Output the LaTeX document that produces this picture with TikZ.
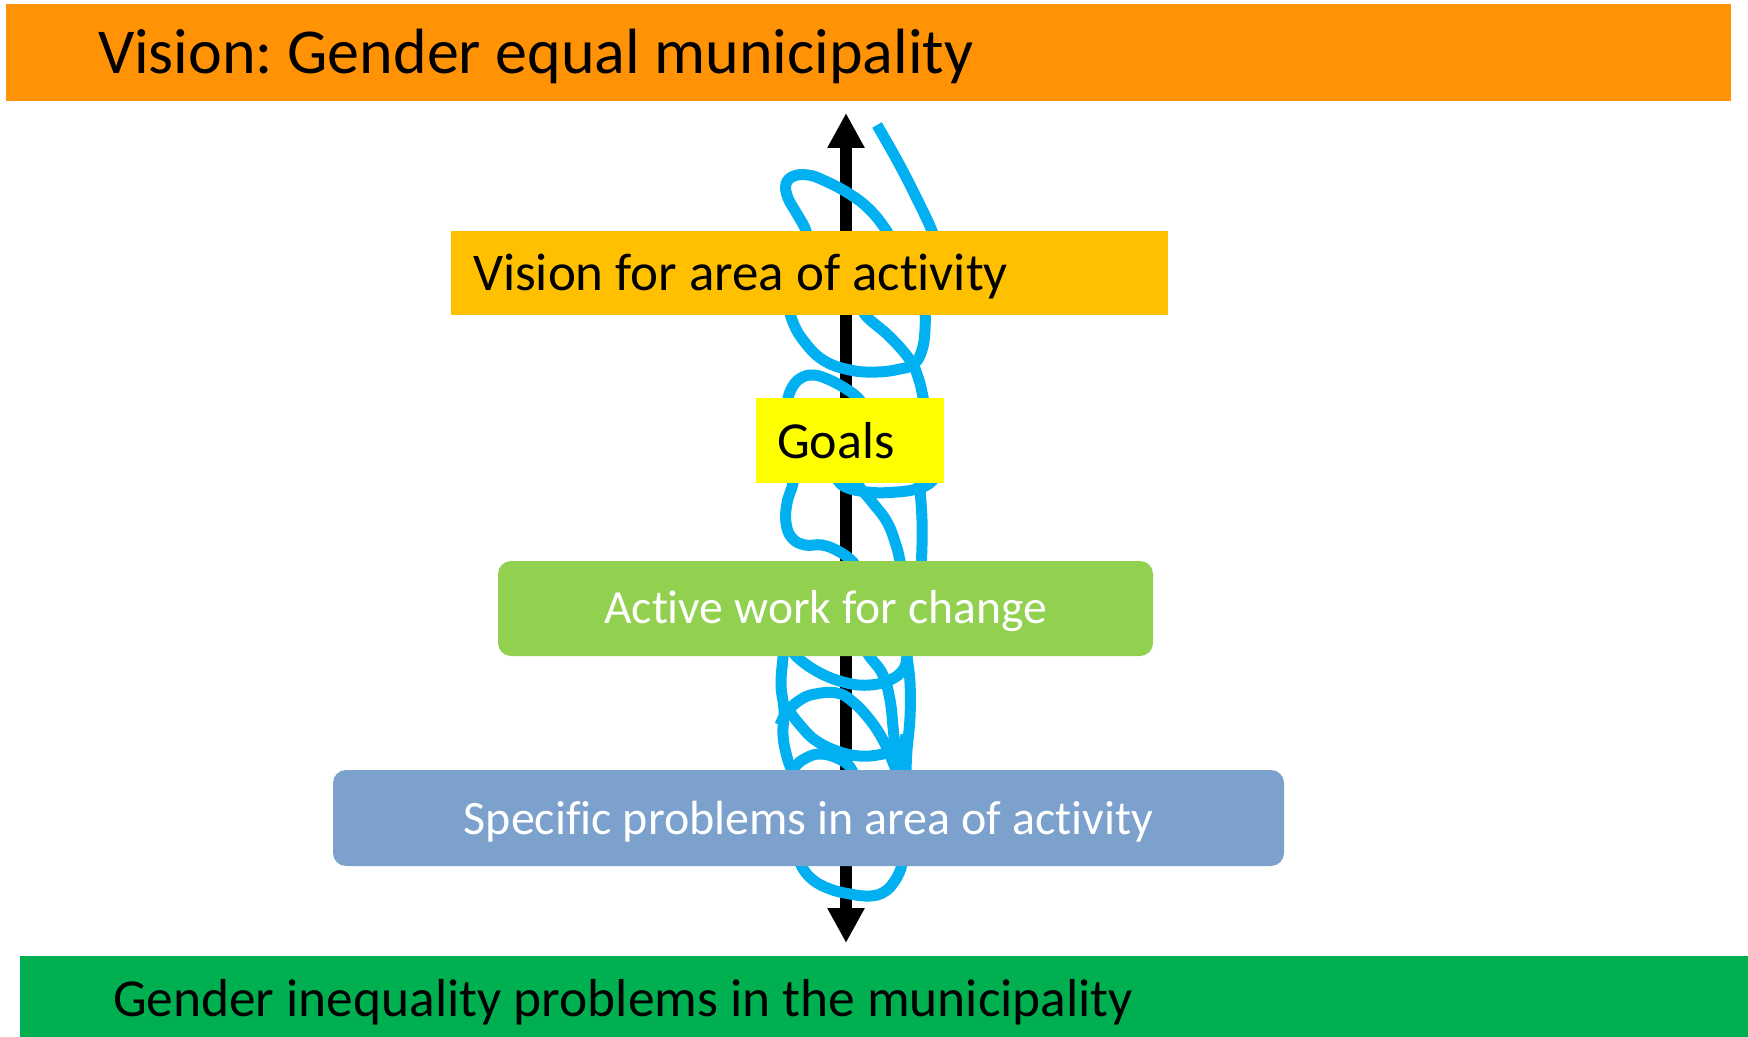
\documentclass[tikz,border=0pt]{standalone}
\usepackage{fontspec}
\setmainfont[Ligatures=NoCommon]{Carlito}
\frenchspacing
\usetikzlibrary{arrows.meta}
\definecolor{visionorange}{RGB}{255,146,5}
\definecolor{areagold}{RGB}{255,192,0}
\definecolor{goalyellow}{RGB}{255,255,0}
\definecolor{worklime}{RGB}{146,208,80}
\definecolor{issueblue}{RGB}{124,161,205}
\definecolor{basegreen}{RGB}{0,176,80}
\definecolor{coilblue}{RGB}{0,176,240}
\begin{document}
\begin{tikzpicture}[
    x=0.5pt, y=-0.5pt,
    box/.style = {anchor=north west, outer sep=0pt, inner ysep=0pt, text depth=0pt,
      execute at begin node=\spaceskip0pt\xspaceskip0pt\relax},
    coil/.style = {draw=coilblue, line width=5.5pt},
    updown/.style = {line width=6pt, {Triangle[width=17.5pt,length=17.5pt]}-{Triangle[width=17.5pt,length=17.5pt]}},
  ]
  \useasboundingbox (0,0) rectangle (1748,1037);
  \node[box, fill=visionorange, minimum height=48.5pt, inner xsep=46pt, text width=770.5pt, align=flush left,
    text height=21pt, font=\fontsize{32}{38}\selectfont] (vision) at (6,4)
    {Vision: Gender equal municipality};
  \node[box, fill=basegreen, minimum height=40.5pt, inner xsep=46.5pt, text width=771pt, align=flush left,
    text height=19.5pt, font=\fontsize{26.7}{32}\selectfont] (base) at (20,956)
    {Gender inequality problems in the municipality};
  \coordinate (up) at (846,113);
  \coordinate (down) at (846,943);
  \draw[updown] (down) -- (up);
  \draw[coil] plot[smooth, tension=0.7] coordinates {(877,125) (898,162) (916,197) (932,231) (935,245)};
  \draw[coil] plot[smooth, tension=0.7] coordinates {(806,245) (806,231) (797,214) (788,198) (786,184) (794,176) (808,175) (823,180) (848,193) (869,209) (886,230) (893,245)};
  \draw[coil] plot[smooth, tension=0.7] coordinates {(925,305) (925,330) (922,350) (914,364) (900,369) (877,372) (850,370) (823,360) (803,340) (792,320) (789,305)};
  \draw[coil] plot[smooth, tension=0.7] coordinates {(860,305) (867,317) (890,337) (910,360) (918,377) (923,397) (925,410)};
  \draw[coil] plot[smooth, tension=0.7] coordinates {(787,410) (788,398) (793,386) (801,378) (812,375) (825,378) (843,387) (858,398) (866,410)};
  \draw[coil] plot[smooth, tension=0.7] coordinates {(835,470) (842,485) (867,492) (897,492) (920,488) (933,480) (935,470)};
  \draw[coil] plot[smooth, tension=0.7] coordinates {(850,470) (858,485) (872,502) (887,522) (896,545) (900,561) (902,570)};
  \draw[coil] plot[smooth, tension=0.7] coordinates {(918,475) (920,490) (922,520) (922,545) (921,570)};
  \draw[coil] plot[smooth, tension=0.7] coordinates {(792,470) (793,483) (787,503) (786,523) (792,538) (805,545) (822,545) (838,551) (852,561) (858,570)};
  \draw[coil] plot[smooth, tension=0.7] coordinates {(784,645) (783,657) (781,685) (784,710) (783,735) (787,757) (792,771) (795,780)};
  \draw[coil] plot[smooth, tension=0.7] coordinates {(790,645) (797,657) (820,673) (847,683) (870,685) (890,680) (903,670) (907,657) (907,645)};
  \draw[coil] plot[smooth, tension=0.7] coordinates {(862,645) (870,657) (883,675) (890,700) (893,727) (895,750) (896,771) (896,780)};
  \draw[coil] plot[smooth, tension=0.7] coordinates {(905,645) (907,657) (910,683) (910,717) (907,750) (906,771) (906,780)};
  \draw[coil] plot[smooth, tension=0.7] coordinates {(780,725) (787,712) (800,700) (815,694) (837,693) (853,702) (870,720) (883,740) (892,760) (896,771) (897,780)};
  \draw[coil] plot[smooth, tension=0.7] coordinates {(790,712) (800,725) (815,740) (837,751) (860,756) (883,754) (900,748) (906,735)};
  \draw[coil] plot[smooth, tension=0.7] coordinates {(790,780) (795,767) (806,758) (820,754) (837,758) (850,767) (855,780)};
  \draw[coil] plot[smooth, tension=0.7] coordinates {(798,855) (802,867) (813,880) (830,889) (850,894) (870,896) (884,892) (894,882) (901,868) (903,855)};
  \node[box, fill=areagold, minimum height=42pt, inner xsep=11pt, text width=336.5pt, align=flush left,
    text height=18pt, font=\fontsize{26.5}{32}\selectfont] (area) at (451,231)
    {Vision for area of activity};
  \node[box, fill=goalyellow, minimum height=42.5pt, inner xsep=10.5pt, text width=73pt, align=flush left,
    text height=17.5pt, font=\fontsize{26}{31}\selectfont] (goals) at (756,398)
    {Goals};
  \node[box, fill=worklime, rounded corners=6.5pt, minimum width=327.5pt, minimum height=47.5pt,
    text height=14.5pt, text=white, font=\fontsize{23.8}{29}\selectfont] (work) at (498,561)
    {Active work for change};
  \node[box, fill=issueblue, rounded corners=6.5pt, minimum width=475.5pt, minimum height=48pt,
    text height=16pt, text=white, font=\fontsize{24}{29}\selectfont] (issues) at (333,770)
    {Specific problems in area of activity};
\end{tikzpicture}
\end{document}
